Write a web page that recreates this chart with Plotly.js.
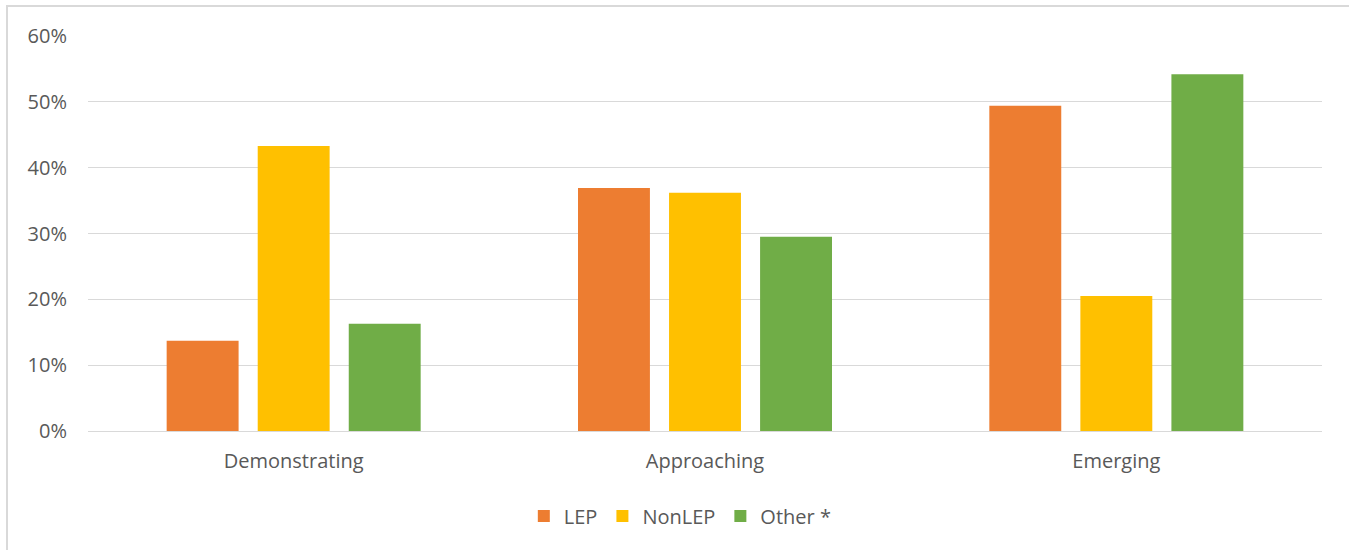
<!DOCTYPE html>
<html>
<head>
<meta charset="utf-8">
<script src="https://cdn.plot.ly/plotly-3.0.1.min.js"></script>
<style>
html,body{margin:0;padding:0;overflow:hidden;background:#fff;width:1349px;height:550px;}
#chart{position:absolute;left:0;top:0;width:1349px;height:550px;}
#frame{position:absolute;left:6px;top:5px;width:1400px;height:600px;border:2px solid #d9d9d9;pointer-events:none;}
</style>
</head>
<body>
<div id="chart"></div>
<div id="frame"></div>
<script>
const categories = ["Demonstrating", "Approaching", "Emerging"];
const lep = [0.137, 0.369, 0.494];
const nonLep = [0.433, 0.362, 0.205];
const other = [0.163, 0.295, 0.542];
const seriesNames = ["LEP", "NonLEP", "Other *"];
const colors = ["#ED7D31", "#FFC000", "#70AD47"];
const tickVals = [0, 0.1, 0.2, 0.3, 0.4, 0.5, 0.6];

const fontFam = "'Open Sans', 'Noto Sans', sans-serif";
const traces = [lep, nonLep, other].map((vals, i) => ({
  type: "bar",
  name: seriesNames[i],
  x: categories,
  y: vals,
  marker: {color: colors[i], line: {width: 0}},
  hoverinfo: "x+y+name"
}));

const layout = {
  width: 1349, height: 550,
  margin: {l: 88, r: 27, t: 36, b: 119},
  paper_bgcolor: "rgba(0,0,0,0)",
  plot_bgcolor: "#fff",
  barmode: "group",
  bargap: 0.336,
  bargroupgap: 0.21,
  font: {family: fontFam, size: 20, color: "#595959"},
  xaxis: {
    type: "category",
    showgrid: false,
    showline: false,
    zeroline: false,
    ticks: "",
    ticklabelstandoff: 16,
    tickfont: {size: 20, color: "#595959"}
  },
  yaxis: {
    range: [0, 0.6],
    tickvals: tickVals,
    tickformat: ".0%",
    showgrid: true,
    gridcolor: "#d9d9d9",
    gridwidth: 1,
    zeroline: true,
    zerolinecolor: "#d9d9d9",
    zerolinewidth: 1,
    showline: false,
    ticks: "",
    ticklabelstandoff: 20,
    tickfont: {size: 20, color: "#595959"}
  },
  showlegend: true,
  legend: {
    orientation: "h",
    x: 0.48, xanchor: "center",
    y: -0.215, yanchor: "middle",
    font: {size: 20, color: "#595959"},
    itemwidth: 30,
    traceorder: "normal"
  }
};

Plotly.newPlot("chart", traces, layout, {displayModeBar: false, staticPlot: true});
</script>
</body>
</html>
